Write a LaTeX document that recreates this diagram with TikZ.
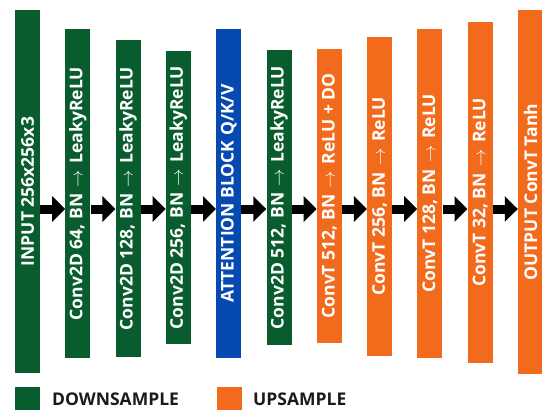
\documentclass[tikz,border=0pt]{standalone}
\usepackage{fontspec}
\setmainfont{Open Sans}
\usetikzlibrary{arrows.meta}
\definecolor{dgreen}{HTML}{085C2E}
\definecolor{dblue}{HTML}{0649B0}
\definecolor{dorange}{HTML}{F26A1B}
\definecolor{legtext}{HTML}{1A1A1A}
\tikzset{
  bar/.style={rectangle, inner sep=0pt, minimum width=25pt, text=white,
    font=\bfseries\fontsize{17.5}{20}\selectfont},
  conn/.style={line width=9pt, -{Triangle[length=13pt,width=25pt]}, black},
  legbox/.style={rectangle, inner sep=0pt, minimum width=25pt, minimum height=25pt},
  legtxt/.style={anchor=base west, inner sep=0pt, text=legtext, font=\bfseries\fontsize{17.5}{20}\selectfont}
}
\newcommand{\rt}[1]{\rotatebox{90}{#1}}
\newcommand{\ar}{\hspace{2pt}$\rightarrow$\hspace{2pt}}
\begin{document}
\begin{tikzpicture}[x=1pt,y=-1pt]
\useasboundingbox (0,0) rectangle (542,410);
\begin{scope}
\clip (0,0) rectangle (542,410);
\node[bar, fill=dgreen, minimum height=363pt] (n1) at (27.5,191.5) {\rt{INPUT 256x256x3}};
\node[bar, fill=dgreen, minimum height=329pt] (n2) at (77.8,193.5) {\rt{Conv2D 64, BN \ar{} LeakyReLU}};
\node[bar, fill=dgreen, minimum height=317pt] (n3) at (128.1,198.5) {\rt{Conv2D 128, BN \ar{} LeakyReLU}};
\node[bar, fill=dgreen, minimum height=293pt] (n4) at (178.4,197.5) {\rt{Conv2D 256, BN \ar{} LeakyReLU}};
\node[bar, fill=dblue, minimum height=329pt] (n5) at (228.7,193.5) {\rt{ATTENTION BLOCK Q/K/V}};
\node[bar, fill=dgreen, minimum height=295pt] (n6) at (279.0,197.5) {\rt{Conv2D 512, BN \ar{} LeakyReLU}};
\node[bar, fill=dorange, minimum height=294pt] (n7) at (329.3,196) {\rt{ConvT 512, BN \ar{} ReLU + DO}};
\node[bar, fill=dorange, minimum height=319pt] (n8) at (379.6,196.5) {\rt{ConvT 256, BN \ar{} ReLU}};
\node[bar, fill=dorange, minimum height=329pt] (n9) at (429.9,193.5) {\rt{ConvT 128, BN \ar{} ReLU}};
\node[bar, fill=dorange, minimum height=341pt] (n10) at (480.2,192.5) {\rt{ConvT 32, BN \ar{} ReLU}};
\node[bar, fill=dorange, minimum height=364pt] (n11) at (530.5,192) {\rt{OUTPUT ConvT Tanh}};
\coordinate (ay) at (0,209);
\foreach \a/\b in {n1/n2,n2/n3,n3/n4,n4/n5,n5/n6,n6/n7,n7/n8,n8/n9,n9/n10,n10/n11}
  \draw[conn] (\a.east |- ay) -- (\b.west |- ay);
\node[legbox, fill=dgreen, anchor=north west] (lg) at (15,387) {};
\node[legtxt] (lgt) at (52,405) {DOWNSAMPLE};
\node[legbox, fill=dorange, anchor=north west] (lo) at (217,387) {};
\node[legtxt] (lot) at (253,405) {UPSAMPLE};
\end{scope}
\end{tikzpicture}
\end{document}
